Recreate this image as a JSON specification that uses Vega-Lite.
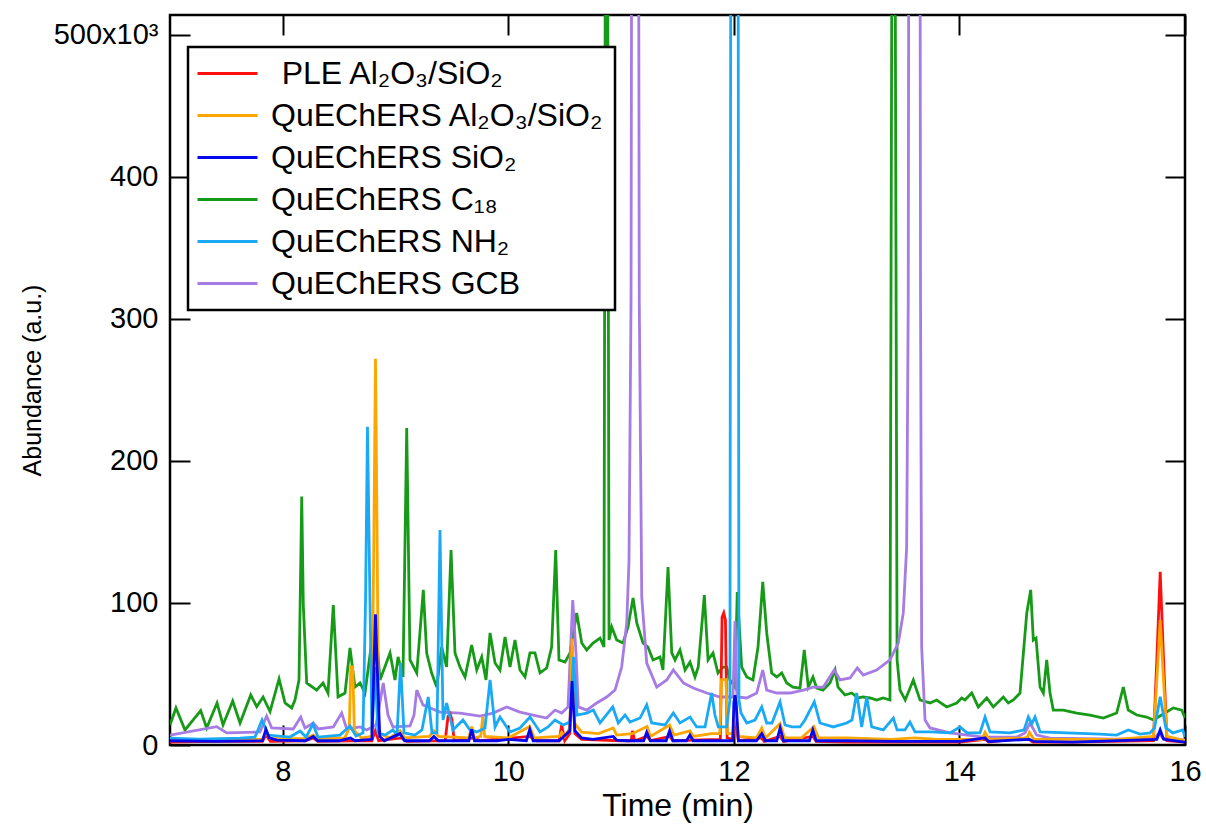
{
"$schema": "https://vega.github.io/schema/vega-lite/v6.json",
"width": 1015, "height": 730,
"autosize": {"type": "none"},
"padding": {"left": 170, "top": 15, "right": 21, "bottom": 82},
"background": "white",
"config": {
  "view": {"stroke": "black", "strokeWidth": 2.5},
  "font": "Liberation Sans",
  "axis": {"grid": false, "domain": false, "tickColor": "black", "tickWidth": 2, "tickSize": -20, "labelColor": "black", "titleColor": "black", "labelFont": "Liberation Sans", "titleFont": "Liberation Sans", "titleFontWeight": "normal"},
  "legend": {"strokeWidth": 2.5}
},
"layer": [
{
"data": {"values": [
{"s":"C18","t":7.000,"y":14.1},{"s":"C18","t":7.053,"y":26.1},{"s":"C18","t":7.133,"y":10.6},{"s":"C18","t":7.272,"y":24.2},{"s":"C18","t":7.325,"y":12.0},{"s":"C18","t":7.417,"y":29.6},{"s":"C18","t":7.470,"y":14.1},{"s":"C18","t":7.556,"y":31.0},{"s":"C18","t":7.621,"y":15.5},{"s":"C18","t":7.716,"y":35.2},{"s":"C18","t":7.769,"y":27.0},{"s":"C18","t":7.825,"y":33.8},{"s":"C18","t":7.887,"y":23.5},{"s":"C18","t":7.967,"y":46.5},{"s":"C18","t":8.020,"y":29.6},{"s":"C18","t":8.079,"y":26.1},{"s":"C18","t":8.108,"y":31.7},{"s":"C18","t":8.144,"y":45.8},{"s":"C18","t":8.168,"y":174.9},{"s":"C18","t":8.182,"y":98.6},{"s":"C18","t":8.212,"y":43.7},{"s":"C18","t":8.301,"y":38.7},{"s":"C18","t":8.357,"y":43.7},{"s":"C18","t":8.401,"y":36.6},{"s":"C18","t":8.448,"y":98.6},{"s":"C18","t":8.490,"y":33.8},{"s":"C18","t":8.552,"y":36.6},{"s":"C18","t":8.596,"y":68.3},{"s":"C18","t":8.640,"y":40.8},{"s":"C18","t":8.685,"y":43.7},{"s":"C18","t":8.729,"y":36.6},{"s":"C18","t":8.818,"y":90.1},{"s":"C18","t":8.862,"y":45.8},{"s":"C18","t":8.951,"y":64.8},{"s":"C18","t":8.995,"y":45.8},{"s":"C18","t":9.022,"y":62.0},{"s":"C18","t":9.066,"y":47.9},{"s":"C18","t":9.099,"y":223.2},{"s":"C18","t":9.128,"y":59.9},{"s":"C18","t":9.188,"y":50.7},{"s":"C18","t":9.246,"y":109.2},{"s":"C18","t":9.276,"y":64.8},{"s":"C18","t":9.320,"y":50.7},{"s":"C18","t":9.365,"y":40.8},{"s":"C18","t":9.409,"y":69.0},{"s":"C18","t":9.453,"y":54.9},{"s":"C18","t":9.492,"y":137.3},{"s":"C18","t":9.527,"y":64.8},{"s":"C18","t":9.571,"y":54.9},{"s":"C18","t":9.616,"y":47.9},{"s":"C18","t":9.675,"y":70.4},{"s":"C18","t":9.720,"y":52.8},{"s":"C18","t":9.764,"y":62.0},{"s":"C18","t":9.802,"y":45.8},{"s":"C18","t":9.838,"y":78.9},{"s":"C18","t":9.882,"y":57.7},{"s":"C18","t":9.926,"y":52.8},{"s":"C18","t":9.971,"y":76.1},{"s":"C18","t":10.015,"y":54.9},{"s":"C18","t":10.059,"y":73.9},{"s":"C18","t":10.103,"y":52.8},{"s":"C18","t":10.148,"y":47.9},{"s":"C18","t":10.192,"y":64.8},{"s":"C18","t":10.236,"y":64.8},{"s":"C18","t":10.281,"y":50.7},{"s":"C18","t":10.340,"y":54.2},{"s":"C18","t":10.384,"y":69.0},{"s":"C18","t":10.420,"y":137.3},{"s":"C18","t":10.449,"y":59.9},{"s":"C18","t":10.503,"y":58.4},{"s":"C18","t":10.547,"y":64.8},{"s":"C18","t":10.606,"y":93.0},{"s":"C18","t":10.651,"y":71.8},{"s":"C18","t":10.695,"y":66.9},{"s":"C18","t":10.751,"y":71.8},{"s":"C18","t":10.813,"y":75.3},{"s":"C18","t":10.848,"y":69.0},{"s":"C18","t":10.870,"y":1000},{"s":"C18","t":10.893,"y":74.0},{"s":"C18","t":10.917,"y":83.1},{"s":"C18","t":10.961,"y":73.9},{"s":"C18","t":11.017,"y":71.8},{"s":"C18","t":11.061,"y":83.1},{"s":"C18","t":11.106,"y":103.5},{"s":"C18","t":11.139,"y":85.9},{"s":"C18","t":11.194,"y":71.8},{"s":"C18","t":11.238,"y":69.0},{"s":"C18","t":11.283,"y":59.9},{"s":"C18","t":11.345,"y":62.0},{"s":"C18","t":11.371,"y":52.8},{"s":"C18","t":11.416,"y":125.3},{"s":"C18","t":11.449,"y":64.8},{"s":"C18","t":11.478,"y":59.9},{"s":"C18","t":11.522,"y":66.9},{"s":"C18","t":11.567,"y":52.8},{"s":"C18","t":11.611,"y":58.4},{"s":"C18","t":11.655,"y":47.9},{"s":"C18","t":11.684,"y":54.9},{"s":"C18","t":11.738,"y":105.6},{"s":"C18","t":11.771,"y":59.9},{"s":"C18","t":11.815,"y":64.8},{"s":"C18","t":11.859,"y":50.7},{"s":"C18","t":11.904,"y":54.9},{"s":"C18","t":11.936,"y":54.9},{"s":"C18","t":11.965,"y":45.8},{"s":"C18","t":12.009,"y":40.8},{"s":"C18","t":12.030,"y":107.7},{"s":"C18","t":12.069,"y":54.9},{"s":"C18","t":12.114,"y":47.9},{"s":"C18","t":12.169,"y":45.8},{"s":"C18","t":12.214,"y":69.0},{"s":"C18","t":12.256,"y":114.8},{"s":"C18","t":12.291,"y":78.9},{"s":"C18","t":12.335,"y":50.7},{"s":"C18","t":12.380,"y":47.9},{"s":"C18","t":12.424,"y":50.7},{"s":"C18","t":12.468,"y":43.7},{"s":"C18","t":12.524,"y":40.8},{"s":"C18","t":12.586,"y":40.1},{"s":"C18","t":12.624,"y":66.9},{"s":"C18","t":12.660,"y":40.8},{"s":"C18","t":12.701,"y":47.9},{"s":"C18","t":12.734,"y":40.1},{"s":"C18","t":12.790,"y":38.7},{"s":"C18","t":12.852,"y":43.7},{"s":"C18","t":12.897,"y":52.8},{"s":"C18","t":12.923,"y":40.8},{"s":"C18","t":12.985,"y":35.2},{"s":"C18","t":13.045,"y":36.6},{"s":"C18","t":13.101,"y":33.1},{"s":"C18","t":13.145,"y":33.8},{"s":"C18","t":13.207,"y":33.1},{"s":"C18","t":13.267,"y":31.7},{"s":"C18","t":13.322,"y":33.1},{"s":"C18","t":13.384,"y":31.7},{"s":"C18","t":13.415,"y":1000},{"s":"C18","t":13.447,"y":59.9},{"s":"C18","t":13.473,"y":38.7},{"s":"C18","t":13.519,"y":31.7},{"s":"C18","t":13.591,"y":45.8},{"s":"C18","t":13.650,"y":31.7},{"s":"C18","t":13.739,"y":29.6},{"s":"C18","t":13.798,"y":31.7},{"s":"C18","t":13.887,"y":26.8},{"s":"C18","t":13.976,"y":29.6},{"s":"C18","t":14.020,"y":33.1},{"s":"C18","t":14.049,"y":31.7},{"s":"C18","t":14.109,"y":36.6},{"s":"C18","t":14.167,"y":26.8},{"s":"C18","t":14.242,"y":33.1},{"s":"C18","t":14.300,"y":26.8},{"s":"C18","t":14.389,"y":33.8},{"s":"C18","t":14.433,"y":29.6},{"s":"C18","t":14.478,"y":31.7},{"s":"C18","t":14.537,"y":36.6},{"s":"C18","t":14.597,"y":93.0},{"s":"C18","t":14.632,"y":109.2},{"s":"C18","t":14.655,"y":73.9},{"s":"C18","t":14.679,"y":75.3},{"s":"C18","t":14.715,"y":40.8},{"s":"C18","t":14.744,"y":36.6},{"s":"C18","t":14.774,"y":59.9},{"s":"C18","t":14.803,"y":36.6},{"s":"C18","t":14.832,"y":24.6},{"s":"C18","t":14.921,"y":24.6},{"s":"C18","t":15.040,"y":22.5},{"s":"C18","t":15.158,"y":21.1},{"s":"C18","t":15.276,"y":19.0},{"s":"C18","t":15.394,"y":22.5},{"s":"C18","t":15.453,"y":40.8},{"s":"C18","t":15.497,"y":24.6},{"s":"C18","t":15.572,"y":21.1},{"s":"C18","t":15.660,"y":19.7},{"s":"C18","t":15.719,"y":17.6},{"s":"C18","t":15.763,"y":19.7},{"s":"C18","t":15.823,"y":22.5},{"s":"C18","t":15.896,"y":26.1},{"s":"C18","t":15.971,"y":24.6},{"s":"C18","t":16.000,"y":19.0},
{"s":"GCB","t":7.000,"y":7.0},{"s":"GCB","t":7.414,"y":12.9},{"s":"GCB","t":7.503,"y":8.5},{"s":"GCB","t":7.798,"y":9.2},{"s":"GCB","t":7.857,"y":20.4},{"s":"GCB","t":7.902,"y":12.0},{"s":"GCB","t":8.093,"y":11.3},{"s":"GCB","t":8.159,"y":19.7},{"s":"GCB","t":8.197,"y":12.0},{"s":"GCB","t":8.271,"y":15.5},{"s":"GCB","t":8.315,"y":11.3},{"s":"GCB","t":8.448,"y":12.7},{"s":"GCB","t":8.522,"y":22.5},{"s":"GCB","t":8.567,"y":11.3},{"s":"GCB","t":8.685,"y":12.7},{"s":"GCB","t":8.744,"y":10.6},{"s":"GCB","t":8.827,"y":14.1},{"s":"GCB","t":8.891,"y":43.7},{"s":"GCB","t":8.933,"y":21.1},{"s":"GCB","t":8.977,"y":12.7},{"s":"GCB","t":9.128,"y":13.4},{"s":"GCB","t":9.164,"y":21.1},{"s":"GCB","t":9.188,"y":38.7},{"s":"GCB","t":9.243,"y":28.2},{"s":"GCB","t":9.394,"y":23.2},{"s":"GCB","t":9.571,"y":22.5},{"s":"GCB","t":9.749,"y":20.4},{"s":"GCB","t":9.864,"y":22.5},{"s":"GCB","t":9.986,"y":26.8},{"s":"GCB","t":10.103,"y":23.2},{"s":"GCB","t":10.219,"y":21.1},{"s":"GCB","t":10.340,"y":19.0},{"s":"GCB","t":10.414,"y":24.6},{"s":"GCB","t":10.473,"y":22.5},{"s":"GCB","t":10.529,"y":26.8},{"s":"GCB","t":10.571,"y":102.1},{"s":"GCB","t":10.600,"y":64.8},{"s":"GCB","t":10.620,"y":26.8},{"s":"GCB","t":10.695,"y":24.6},{"s":"GCB","t":10.784,"y":29.6},{"s":"GCB","t":10.872,"y":33.8},{"s":"GCB","t":10.946,"y":38.7},{"s":"GCB","t":11.005,"y":54.9},{"s":"GCB","t":11.050,"y":85.9},{"s":"GCB","t":11.070,"y":130},{"s":"GCB","t":11.088,"y":313},{"s":"GCB","t":11.106,"y":1200},{"s":"GCB","t":11.142,"y":1200},{"s":"GCB","t":11.161,"y":313},{"s":"GCB","t":11.183,"y":104.2},{"s":"GCB","t":11.227,"y":57.7},{"s":"GCB","t":11.316,"y":40.8},{"s":"GCB","t":11.404,"y":45.8},{"s":"GCB","t":11.463,"y":52.8},{"s":"GCB","t":11.552,"y":43.7},{"s":"GCB","t":11.640,"y":40.1},{"s":"GCB","t":11.759,"y":36.6},{"s":"GCB","t":11.877,"y":33.8},{"s":"GCB","t":11.992,"y":33.8},{"s":"GCB","t":12.010,"y":87.3},{"s":"GCB","t":12.027,"y":33.8},{"s":"GCB","t":12.114,"y":33.1},{"s":"GCB","t":12.202,"y":36.6},{"s":"GCB","t":12.256,"y":52.8},{"s":"GCB","t":12.291,"y":38.7},{"s":"GCB","t":12.380,"y":36.6},{"s":"GCB","t":12.498,"y":36.6},{"s":"GCB","t":12.616,"y":38.7},{"s":"GCB","t":12.704,"y":40.8},{"s":"GCB","t":12.793,"y":40.8},{"s":"GCB","t":12.890,"y":52.8},{"s":"GCB","t":12.941,"y":45.8},{"s":"GCB","t":13.030,"y":47.2},{"s":"GCB","t":13.094,"y":54.2},{"s":"GCB","t":13.147,"y":49.3},{"s":"GCB","t":13.266,"y":52.8},{"s":"GCB","t":13.384,"y":59.9},{"s":"GCB","t":13.458,"y":71.8},{"s":"GCB","t":13.502,"y":93.0},{"s":"GCB","t":13.532,"y":139.4},{"s":"GCB","t":13.546,"y":313},{"s":"GCB","t":13.561,"y":1200},{"s":"GCB","t":13.641,"y":1200},{"s":"GCB","t":13.655,"y":313},{"s":"GCB","t":13.665,"y":69.0},{"s":"GCB","t":13.695,"y":17.6},{"s":"GCB","t":13.739,"y":12.0},{"s":"GCB","t":13.916,"y":8.5},{"s":"GCB","t":14.209,"y":5.6},{"s":"GCB","t":14.508,"y":5.6},{"s":"GCB","t":14.581,"y":8.5},{"s":"GCB","t":14.626,"y":15.5},{"s":"GCB","t":14.685,"y":7.0},{"s":"GCB","t":14.803,"y":4.9},{"s":"GCB","t":15.394,"y":4.2},{"s":"GCB","t":15.733,"y":4.9},{"s":"GCB","t":15.769,"y":8.5},{"s":"GCB","t":15.804,"y":4.9},{"s":"GCB","t":16.000,"y":3.5},
{"s":"PLE","t":7.0,"y":2},{"s":"PLE","t":7.4,"y":2.5},{"s":"PLE","t":7.82,"y":2.5},{"s":"PLE","t":7.85,"y":7},{"s":"PLE","t":7.89,"y":2.5},{"s":"PLE","t":8.2,"y":3},{"s":"PLE","t":8.27,"y":5},{"s":"PLE","t":8.31,"y":2.5},{"s":"PLE","t":8.6,"y":3},{"s":"PLE","t":8.79,"y":3},{"s":"PLE","t":8.82,"y":10},{"s":"PLE","t":8.85,"y":3},{"s":"PLE","t":9.05,"y":5},{"s":"PLE","t":9.1,"y":2.5},{"s":"PLE","t":9.44,"y":3},{"s":"PLE","t":9.465,"y":20},{"s":"PLE","t":9.483,"y":22},{"s":"PLE","t":9.5,"y":18},{"s":"PLE","t":9.52,"y":3},{"s":"PLE","t":9.7,"y":5},{"s":"PLE","t":9.75,"y":3},{"s":"PLE","t":10.19,"y":6},{"s":"PLE","t":10.25,"y":3},{"s":"PLE","t":10.45,"y":3},{"s":"PLE","t":10.473,"y":14},{"s":"PLE","t":10.5,"y":3},{"s":"PLE","t":10.545,"y":8},{"s":"PLE","t":10.565,"y":70},{"s":"PLE","t":10.59,"y":8},{"s":"PLE","t":10.65,"y":4},{"s":"PLE","t":11.0,"y":3},{"s":"PLE","t":11.09,"y":3},{"s":"PLE","t":11.1,"y":10},{"s":"PLE","t":11.12,"y":3},{"s":"PLE","t":11.23,"y":6},{"s":"PLE","t":11.26,"y":3},{"s":"PLE","t":11.43,"y":6},{"s":"PLE","t":11.46,"y":3},{"s":"PLE","t":11.88,"y":4},{"s":"PLE","t":11.895,"y":90},{"s":"PLE","t":11.91,"y":93},{"s":"PLE","t":11.925,"y":88},{"s":"PLE","t":11.94,"y":5},{"s":"PLE","t":11.99,"y":4},{"s":"PLE","t":12.01,"y":20},{"s":"PLE","t":12.04,"y":3},{"s":"PLE","t":12.24,"y":5},{"s":"PLE","t":12.27,"y":2.5},{"s":"PLE","t":12.41,"y":6},{"s":"PLE","t":12.44,"y":2.5},{"s":"PLE","t":12.7,"y":6},{"s":"PLE","t":12.73,"y":2.5},{"s":"PLE","t":13.0,"y":2},{"s":"PLE","t":13.4,"y":2},{"s":"PLE","t":14.0,"y":2},{"s":"PLE","t":14.23,"y":4},{"s":"PLE","t":14.26,"y":2},{"s":"PLE","t":14.6,"y":5},{"s":"PLE","t":14.65,"y":2},{"s":"PLE","t":15.0,"y":2},{"s":"PLE","t":15.72,"y":3},{"s":"PLE","t":15.75,"y":60},{"s":"PLE","t":15.78,"y":122},{"s":"PLE","t":15.81,"y":60},{"s":"PLE","t":15.84,"y":3},{"s":"PLE","t":16.0,"y":2},
{"s":"Al","t":7.0,"y":4},{"s":"Al","t":7.4,"y":4},{"s":"Al","t":7.82,"y":4},{"s":"Al","t":7.85,"y":9},{"s":"Al","t":7.89,"y":4.5},{"s":"Al","t":8.2,"y":4.5},{"s":"Al","t":8.27,"y":7},{"s":"Al","t":8.31,"y":4.5},{"s":"Al","t":8.55,"y":5},{"s":"Al","t":8.59,"y":12},{"s":"Al","t":8.603,"y":55},{"s":"Al","t":8.62,"y":55},{"s":"Al","t":8.635,"y":10},{"s":"Al","t":8.7,"y":5},{"s":"Al","t":8.79,"y":6},{"s":"Al","t":8.808,"y":150},{"s":"Al","t":8.822,"y":272},{"s":"Al","t":8.836,"y":150},{"s":"Al","t":8.85,"y":8},{"s":"Al","t":8.95,"y":5},{"s":"Al","t":9.04,"y":10},{"s":"Al","t":9.08,"y":5},{"s":"Al","t":9.3,"y":6},{"s":"Al","t":9.34,"y":10},{"s":"Al","t":9.38,"y":6},{"s":"Al","t":9.65,"y":5},{"s":"Al","t":9.675,"y":13},{"s":"Al","t":9.7,"y":5},{"s":"Al","t":9.755,"y":6},{"s":"Al","t":9.773,"y":20},{"s":"Al","t":9.79,"y":6},{"s":"Al","t":10.0,"y":5},{"s":"Al","t":10.19,"y":13},{"s":"Al","t":10.23,"y":5},{"s":"Al","t":10.45,"y":6},{"s":"Al","t":10.473,"y":9},{"s":"Al","t":10.5,"y":6},{"s":"Al","t":10.545,"y":12},{"s":"Al","t":10.565,"y":75},{"s":"Al","t":10.59,"y":15},{"s":"Al","t":10.65,"y":9},{"s":"Al","t":10.8,"y":8},{"s":"Al","t":10.93,"y":12},{"s":"Al","t":10.96,"y":7},{"s":"Al","t":11.1,"y":8},{"s":"Al","t":11.23,"y":13},{"s":"Al","t":11.26,"y":6},{"s":"Al","t":11.43,"y":14},{"s":"Al","t":11.47,"y":7},{"s":"Al","t":11.61,"y":10},{"s":"Al","t":11.64,"y":6},{"s":"Al","t":11.8,"y":8},{"s":"Al","t":11.875,"y":8},{"s":"Al","t":11.89,"y":46},{"s":"Al","t":11.93,"y":46},{"s":"Al","t":11.945,"y":8},{"s":"Al","t":11.99,"y":8},{"s":"Al","t":12.01,"y":28},{"s":"Al","t":12.04,"y":6},{"s":"Al","t":12.2,"y":5},{"s":"Al","t":12.247,"y":12},{"s":"Al","t":12.28,"y":5},{"s":"Al","t":12.41,"y":15},{"s":"Al","t":12.45,"y":5},{"s":"Al","t":12.6,"y":5},{"s":"Al","t":12.71,"y":13},{"s":"Al","t":12.75,"y":5},{"s":"Al","t":13.0,"y":5},{"s":"Al","t":13.4,"y":4},{"s":"Al","t":13.6,"y":5},{"s":"Al","t":13.8,"y":4},{"s":"Al","t":14.2,"y":4},{"s":"Al","t":14.227,"y":9},{"s":"Al","t":14.26,"y":4},{"s":"Al","t":14.6,"y":5},{"s":"Al","t":14.62,"y":9},{"s":"Al","t":14.66,"y":4},{"s":"Al","t":15.0,"y":4},{"s":"Al","t":15.4,"y":4},{"s":"Al","t":15.72,"y":6},{"s":"Al","t":15.75,"y":45},{"s":"Al","t":15.78,"y":88},{"s":"Al","t":15.81,"y":45},{"s":"Al","t":15.84,"y":6},{"s":"Al","t":16.0,"y":3},
{"s":"NH2","t":7.000,"y":4.9},{"s":"NH2","t":7.266,"y":4.2},{"s":"NH2","t":7.621,"y":4.9},{"s":"NH2","t":7.754,"y":5.6},{"s":"NH2","t":7.816,"y":17.6},{"s":"NH2","t":7.869,"y":7.0},{"s":"NH2","t":8.064,"y":5.6},{"s":"NH2","t":8.153,"y":9.9},{"s":"NH2","t":8.206,"y":5.6},{"s":"NH2","t":8.268,"y":14.8},{"s":"NH2","t":8.312,"y":5.6},{"s":"NH2","t":8.507,"y":7.0},{"s":"NH2","t":8.596,"y":13.4},{"s":"NH2","t":8.649,"y":6.3},{"s":"NH2","t":8.711,"y":8.5},{"s":"NH2","t":8.734,"y":102},{"s":"NH2","t":8.751,"y":224},{"s":"NH2","t":8.773,"y":102},{"s":"NH2","t":8.791,"y":8.5},{"s":"NH2","t":8.818,"y":54.9},{"s":"NH2","t":8.844,"y":8.5},{"s":"NH2","t":8.906,"y":7.0},{"s":"NH2","t":8.977,"y":10.6},{"s":"NH2","t":9.013,"y":7.0},{"s":"NH2","t":9.044,"y":57.7},{"s":"NH2","t":9.075,"y":8.5},{"s":"NH2","t":9.172,"y":7.0},{"s":"NH2","t":9.234,"y":10.6},{"s":"NH2","t":9.290,"y":33.8},{"s":"NH2","t":9.323,"y":8.5},{"s":"NH2","t":9.367,"y":8.5},{"s":"NH2","t":9.394,"y":151.4},{"s":"NH2","t":9.421,"y":17.6},{"s":"NH2","t":9.453,"y":29.6},{"s":"NH2","t":9.509,"y":10.6},{"s":"NH2","t":9.598,"y":17.6},{"s":"NH2","t":9.660,"y":10.6},{"s":"NH2","t":9.720,"y":9.2},{"s":"NH2","t":9.793,"y":12.0},{"s":"NH2","t":9.838,"y":45.8},{"s":"NH2","t":9.882,"y":12.7},{"s":"NH2","t":9.926,"y":19.7},{"s":"NH2","t":10.015,"y":9.2},{"s":"NH2","t":10.103,"y":12.0},{"s":"NH2","t":10.192,"y":19.7},{"s":"NH2","t":10.281,"y":9.2},{"s":"NH2","t":10.352,"y":12.7},{"s":"NH2","t":10.414,"y":17.6},{"s":"NH2","t":10.487,"y":14.1},{"s":"NH2","t":10.547,"y":16.2},{"s":"NH2","t":10.578,"y":62.0},{"s":"NH2","t":10.609,"y":21.1},{"s":"NH2","t":10.695,"y":22.5},{"s":"NH2","t":10.754,"y":24.6},{"s":"NH2","t":10.813,"y":15.5},{"s":"NH2","t":10.926,"y":26.8},{"s":"NH2","t":10.975,"y":15.5},{"s":"NH2","t":11.035,"y":21.1},{"s":"NH2","t":11.079,"y":16.2},{"s":"NH2","t":11.168,"y":19.0},{"s":"NH2","t":11.227,"y":28.2},{"s":"NH2","t":11.271,"y":15.5},{"s":"NH2","t":11.389,"y":14.1},{"s":"NH2","t":11.463,"y":22.5},{"s":"NH2","t":11.522,"y":15.5},{"s":"NH2","t":11.611,"y":19.7},{"s":"NH2","t":11.670,"y":12.7},{"s":"NH2","t":11.744,"y":12.7},{"s":"NH2","t":11.803,"y":36.6},{"s":"NH2","t":11.832,"y":21.1},{"s":"NH2","t":11.862,"y":12.7},{"s":"NH2","t":11.936,"y":12.7},{"s":"NH2","t":11.965,"y":31.7},{"s":"NH2","t":11.978,"y":1000},{"s":"NH2","t":12.032,"y":1000},{"s":"NH2","t":12.045,"y":31.7},{"s":"NH2","t":12.063,"y":22.5},{"s":"NH2","t":12.114,"y":15.5},{"s":"NH2","t":12.187,"y":17.6},{"s":"NH2","t":12.247,"y":26.8},{"s":"NH2","t":12.291,"y":15.5},{"s":"NH2","t":12.338,"y":15.5},{"s":"NH2","t":12.409,"y":30.3},{"s":"NH2","t":12.453,"y":14.1},{"s":"NH2","t":12.515,"y":12.7},{"s":"NH2","t":12.586,"y":12.7},{"s":"NH2","t":12.630,"y":17.6},{"s":"NH2","t":12.713,"y":30.3},{"s":"NH2","t":12.763,"y":15.5},{"s":"NH2","t":12.881,"y":12.7},{"s":"NH2","t":13.000,"y":15.5},{"s":"NH2","t":13.047,"y":17.6},{"s":"NH2","t":13.089,"y":36.6},{"s":"NH2","t":13.133,"y":12.7},{"s":"NH2","t":13.178,"y":33.8},{"s":"NH2","t":13.222,"y":12.7},{"s":"NH2","t":13.325,"y":10.6},{"s":"NH2","t":13.414,"y":19.0},{"s":"NH2","t":13.447,"y":10.6},{"s":"NH2","t":13.517,"y":10.6},{"s":"NH2","t":13.561,"y":16.2},{"s":"NH2","t":13.606,"y":9.2},{"s":"NH2","t":13.739,"y":9.2},{"s":"NH2","t":13.916,"y":8.5},{"s":"NH2","t":14.005,"y":12.7},{"s":"NH2","t":14.067,"y":8.5},{"s":"NH2","t":14.182,"y":8.5},{"s":"NH2","t":14.227,"y":19.7},{"s":"NH2","t":14.271,"y":9.2},{"s":"NH2","t":14.448,"y":8.5},{"s":"NH2","t":14.573,"y":10.6},{"s":"NH2","t":14.611,"y":19.7},{"s":"NH2","t":14.641,"y":14.8},{"s":"NH2","t":14.670,"y":19.7},{"s":"NH2","t":14.715,"y":9.2},{"s":"NH2","t":14.951,"y":8.5},{"s":"NH2","t":15.246,"y":7.7},{"s":"NH2","t":15.394,"y":7.0},{"s":"NH2","t":15.497,"y":10.6},{"s":"NH2","t":15.601,"y":7.7},{"s":"NH2","t":15.690,"y":8.5},{"s":"NH2","t":15.73,"y":12},{"s":"NH2","t":15.76,"y":25},{"s":"NH2","t":15.78,"y":34},{"s":"NH2","t":15.80,"y":25},{"s":"NH2","t":15.83,"y":12},{"s":"NH2","t":15.891,"y":8.5},{"s":"NH2","t":15.980,"y":10.6},{"s":"NH2","t":16.000,"y":5.6},
{"s":"Si","t":7.0,"y":3},{"s":"Si","t":7.4,"y":2.5},{"s":"Si","t":7.82,"y":3},{"s":"Si","t":7.851,"y":11},{"s":"Si","t":7.88,"y":5},{"s":"Si","t":7.95,"y":3.5},{"s":"Si","t":8.2,"y":3},{"s":"Si","t":8.27,"y":6},{"s":"Si","t":8.31,"y":3},{"s":"Si","t":8.5,"y":3},{"s":"Si","t":8.6,"y":5},{"s":"Si","t":8.64,"y":3},{"s":"Si","t":8.79,"y":4},{"s":"Si","t":8.81,"y":60},{"s":"Si","t":8.822,"y":92},{"s":"Si","t":8.835,"y":60},{"s":"Si","t":8.86,"y":6},{"s":"Si","t":8.9,"y":3},{"s":"Si","t":9.04,"y":8},{"s":"Si","t":9.08,"y":3},{"s":"Si","t":9.3,"y":3},{"s":"Si","t":9.34,"y":6},{"s":"Si","t":9.38,"y":3},{"s":"Si","t":9.65,"y":3},{"s":"Si","t":9.675,"y":11},{"s":"Si","t":9.7,"y":3},{"s":"Si","t":9.9,"y":3},{"s":"Si","t":10.0,"y":4},{"s":"Si","t":10.16,"y":3},{"s":"Si","t":10.19,"y":11},{"s":"Si","t":10.22,"y":3},{"s":"Si","t":10.45,"y":3},{"s":"Si","t":10.545,"y":10},{"s":"Si","t":10.565,"y":45},{"s":"Si","t":10.59,"y":10},{"s":"Si","t":10.65,"y":5},{"s":"Si","t":10.75,"y":4},{"s":"Si","t":10.93,"y":6},{"s":"Si","t":10.96,"y":3.5},{"s":"Si","t":11.05,"y":3},{"s":"Si","t":11.2,"y":3},{"s":"Si","t":11.227,"y":9},{"s":"Si","t":11.26,"y":3},{"s":"Si","t":11.4,"y":3},{"s":"Si","t":11.43,"y":10},{"s":"Si","t":11.46,"y":3},{"s":"Si","t":11.58,"y":3},{"s":"Si","t":11.61,"y":7},{"s":"Si","t":11.64,"y":3},{"s":"Si","t":11.8,"y":3},{"s":"Si","t":11.99,"y":3},{"s":"Si","t":12.0,"y":30},{"s":"Si","t":12.01,"y":35},{"s":"Si","t":12.02,"y":30},{"s":"Si","t":12.04,"y":3},{"s":"Si","t":12.2,"y":3},{"s":"Si","t":12.247,"y":8},{"s":"Si","t":12.28,"y":3},{"s":"Si","t":12.38,"y":3},{"s":"Si","t":12.41,"y":12},{"s":"Si","t":12.44,"y":3},{"s":"Si","t":12.67,"y":3},{"s":"Si","t":12.7,"y":10.6},{"s":"Si","t":12.73,"y":3},{"s":"Si","t":13.0,"y":3},{"s":"Si","t":13.4,"y":2.5},{"s":"Si","t":14.0,"y":2.5},{"s":"Si","t":14.227,"y":5},{"s":"Si","t":14.26,"y":2.5},{"s":"Si","t":14.62,"y":4},{"s":"Si","t":14.66,"y":2.5},{"s":"Si","t":15.0,"y":2},{"s":"Si","t":15.75,"y":4},{"s":"Si","t":15.78,"y":10.6},{"s":"Si","t":15.81,"y":4},{"s":"Si","t":16.0,"y":2}
]},
"encoding": {
  "x": {"field": "t", "type": "quantitative", "scale": {"domain": [7, 16], "nice": false, "zero": false},
        "axis": {"values": [8, 10, 12, 14, 16], "title": "Time (min)", "labelFontSize": 29, "titleFontSize": 32, "labelPadding": 32, "titlePadding": 4, "labelFlush": false}},
  "y": {"field": "y", "type": "quantitative", "scale": {"domain": [0, 514], "nice": false},
        "axis": {"values": [0, 100, 200, 300, 400, 500], "title": "Abundance (a.u.)", "labelFontSize": 29, "titleFontSize": 25, "labelPadding": 32, "titleX": -125, "titleY": 365, "labelExpr": "datum.value == 500 ? '500x10³' : datum.label"}},
  "color": {"field": "s", "type": "nominal",
    "scale": {"domain": ["PLE", "Al", "Si", "C18", "NH2", "GCB"], "range": ["#ff1010", "#ffa500", "#0808ee", "#179a17", "#1aa9f5", "#a67be3"]},
    "legend": {"orient": "none", "legendX": 18, "legendY": 32, "title": null, "strokeColor": "black", "fillColor": "white", "padding": 10,
      "symbolType": "M-2,0H2", "symbolSize": 900, "symbolStrokeWidth": 3, "symbolOffset": 13, "labelFontSize": 32, "labelFont": "Liberation Sans", "labelColor": "black",
      "labelOffset": 27, "rowPadding": 9, "labelLimit": 0,
      "labelExpr": "datum.label == 'PLE' ? '\u200b\u2004PLE Al₂O₃/SiO₂' : datum.label == 'Al' ? 'QuEChERS Al₂O₃/SiO₂' : datum.label == 'Si' ? 'QuEChERS SiO₂' : datum.label == 'C18' ? 'QuEChERS C₁₈' : datum.label == 'NH2' ? 'QuEChERS NH₂' : 'QuEChERS GCB'"}}
},
"layer": [
  {"transform": [{"filter": "datum.s == 'C18'"}], "mark": {"type": "line", "clip": true, "strokeWidth": 2.8}},
  {"transform": [{"filter": "datum.s == 'GCB'"}], "mark": {"type": "line", "clip": true, "strokeWidth": 2.8}},
  {"transform": [{"filter": "datum.s == 'PLE'"}], "mark": {"type": "line", "clip": true, "strokeWidth": 2.8}},
  {"transform": [{"filter": "datum.s == 'Al'"}], "mark": {"type": "line", "clip": true, "strokeWidth": 2.8}},
  {"transform": [{"filter": "datum.s == 'NH2'"}], "mark": {"type": "line", "clip": true, "strokeWidth": 2.8}},
  {"transform": [{"filter": "datum.s == 'Si'"}], "mark": {"type": "line", "clip": true, "strokeWidth": 2.8}}
]
},
{
"data": {"values": [{"t": 7, "y": 0}, {"t": 16, "y": 514}]},
"mark": {"type": "point", "opacity": 0},
"encoding": {
  "x": {"field": "t", "type": "quantitative", "axis": {"orient": "top", "values": [8, 10, 12, 14, 16], "labels": false, "title": null}},
  "y": {"field": "y", "type": "quantitative", "axis": {"orient": "right", "values": [100, 200, 300, 400, 500], "labels": false, "title": null}}
}
}
],
"resolve": {"axis": {"x": "independent", "y": "independent"}}
}
